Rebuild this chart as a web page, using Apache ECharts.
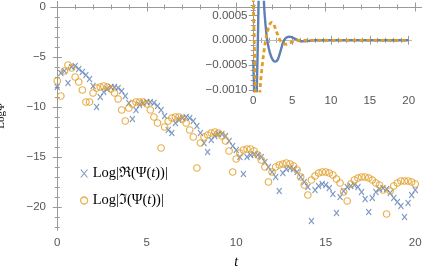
<!DOCTYPE html>
<html><head><meta charset="utf-8">
<script src="https://cdn.jsdelivr.net/npm/echarts@6/dist/echarts.min.js"></script>
<style>html,body{margin:0;padding:0;background:#fff}#c{width:425px;height:278px}</style>
</head><body><div id="c"></div>
<script>
// ---- data ----
const tValues = [0,0.2,0.4,0.6,0.8,1,1.2,1.4,1.6,1.8,2,2.2,2.4,2.6,2.8,3,3.2,3.4,3.6,3.8,4,4.2,4.4,4.6,4.8,5,5.2,5.4,5.6,5.8,6,6.2,6.4,6.6,6.8,7,7.2,7.4,7.6,7.8,8,8.2,8.4,8.6,8.8,9,9.2,9.4,9.6,9.8,10,10.2,10.4,10.6,10.8,11,11.2,11.4,11.6,11.8,12,12.2,12.4,12.6,12.8,13,13.2,13.4,13.6,13.8,14,14.2,14.4,14.6,14.8,15,15.2,15.4,15.6,15.8,16,16.2,16.4,16.6,16.8,17,17.2,17.4,17.6,17.8,18,18.2,18.4,18.6,18.8,19,19.2,19.4,19.6,19.8,20];
const reLog = [-8.0,-6.6,-6.4,-7.6,-6.0,-5.9,-6.2,-6.5,-6.8,-7.2,-7.9,-10.0,-9.0,-8.5,-8.2,-8.0,-8.0,-8.1,-8.4,-8.9,-9.6,-11.2,-10.3,-9.8,-9.6,-9.5,-9.5,-9.6,-9.9,-10.3,-10.9,-12.3,-12.6,-11.6,-11.3,-11.1,-11.0,-11.1,-11.4,-11.9,-12.6,-13.6,-14.5,-13.3,-12.9,-12.7,-12.7,-12.9,-13.4,-13.9,-14.3,-15.0,-16.7,-15.0,-14.8,-14.7,-14.8,-15.0,-15.5,-16.0,-16.5,-17.0,-18.4,-16.6,-16.2,-16.1,-16.2,-16.5,-17.0,-17.5,-18.0,-21.4,-18.3,-17.9,-17.7,-17.8,-18.1,-18.7,-20.6,-19.0,-18.4,-18.0,-17.9,-17.8,-18.0,-18.5,-19.2,-20.5,-19.1,-18.5,-18.2,-18.1,-18.2,-18.6,-19.1,-19.5,-19.9,-21.0,-19.6,-18.8,-18.3];
const imLog = [-7.4,-8.9,-6.4,-5.8,-6.1,-7.0,-7.5,-8.3,-9.5,-9.5,-8.6,-8.1,-8.0,-7.9,-8.0,-8.2,-8.6,-9.2,-10.3,-11.4,-10.1,-9.7,-9.5,-9.5,-9.5,-9.7,-10.3,-11.0,-11.6,-14.1,-12.0,-11.4,-11.1,-11.0,-11.0,-11.2,-11.6,-12.3,-13.0,-16.1,-13.6,-13.0,-12.8,-12.6,-12.5,-12.6,-12.9,-13.4,-14.4,-16.5,-15.2,-14.6,-14.3,-14.2,-14.2,-14.4,-14.8,-15.3,-16.0,-17.5,-16.5,-16.0,-15.8,-15.7,-15.6,-15.7,-15.9,-16.3,-17.0,-17.8,-18.8,-17.3,-16.9,-16.6,-16.5,-16.5,-16.6,-16.8,-17.2,-17.6,-18.5,-19.4,-17.7,-17.3,-17.1,-17.0,-17.0,-17.1,-17.3,-17.6,-17.8,-18.3,-20.7,-18.4,-17.9,-17.6,-17.4,-17.4,-17.4,-17.5,-17.7];
const xTickLabels = [0,5,10,15,20];
const yTickLabels = [-20,-15,-10,-5,0];
const insetT  = [0,0.1,0.2,0.3,0.4,0.5,0.6,0.7,0.8,0.9,1.0,1.2,1.4,1.6,1.8,2.0,2.2,2.4,2.6,2.8,3.0,3.2,3.4,3.6,3.8,4.0,4.2,4.4,4.6,4.8,5.0,5.4,5.8,6.2,6.6,7.0,7.5,8,9,10,12,14,16,18,20];
const insetRe = [-0.00040,-0.0009,-0.0015,-0.0018,-0.0014,-0.0007,0.0,0.0009,0.0017,0.0022,0.0024,0.0016,0.0007,0.00028,0.0,-0.00016,-0.00028,-0.00036,-0.00041,-0.00043,-0.00042,-0.00037,-0.00028,-0.00017,-0.00006,0.00001,0.000045,0.000063,0.00007,0.000068,0.000058,0.00003,0.0,-0.00002,-0.00002,-0.000012,-0.000004,0,0,0,0,0,0,0,0];
const insetIm = [0.00085,0.0002,-0.0005,-0.0013,-0.0020,-0.0025,-0.0025,-0.0020,-0.0013,-0.00095,-0.00075,-0.00045,-0.0002,0.0,0.00015,0.00027,0.00034,0.00036,0.00033,0.00026,0.00017,0.00009,0.00002,-0.00003,-0.00006,-0.000075,-0.00008,-0.000075,-0.000062,-0.000048,-0.000035,-0.000012,0.0,0,0,0,0,0,0,0,0,0,0,0,0];
const insetXTickLabels = [0,5,10,15,20];
const insetYTickLabels = [-0.001,-0.0005,0,0.0005];
const seriesNames = ['Log|\u211C(\u03A8(t))|','Log|\u2111(\u03A8(t))|'];

// ---- chart ----
const BLUE = '#5E81B5', ORANGE = '#E19C24', FRAME = '#9a9a9a', LAB = '#555';
const range = (a,b,s) => { const r=[]; for (let v=a; v<=b+1e-12; v+=s) r.push(+v.toFixed(6)); return r; };
const xMinor = range(0,20,1), yMinor = range(-22,0,1);
const ixMinor = range(0,20,1), iyMinor = range(-0.001,0.0007,0.0001);
const minus = s => String(s).replace('-', '\u2212');

function ax(grid, pos, min, max, major, minor, isMajor, labels, fmt, extra) {
  const o = {
    type:'value', gridIndex:grid, position:pos, min:min, max:max,
    axisLine:{show:isMajor, lineStyle:{color:FRAME, width:1}},
    axisTick:{show:true, inside:true, length:isMajor?4.5:2.5, customValues:isMajor?major:minor, lineStyle:{color:FRAME, width:1}},
    axisLabel:{show:!!labels, customValues:major, formatter:fmt, color:LAB, fontFamily:'Liberation Sans, Arial, sans-serif', fontSize:11.5, margin: 4},
    splitLine:{show:false}
  };
  return Object.assign(o, extra||{});
}
const mainXfmt = v => minus(v);
const mainYfmt = v => minus(v);
const insYfmt = v => minus(Number(v).toFixed(4));

const xAxes = [
  ax(0,'bottom',-0.35,20.35,xTickLabels,xMinor,true,true,mainXfmt,{name:'t',nameLocation:'middle',nameGap:25,nameTextStyle:{fontFamily:'Liberation Serif, serif',fontStyle:'italic',fontSize:14,color:'#000'}}),
  ax(0,'bottom',-0.35,20.35,xTickLabels,xMinor,false,false),
  ax(0,'top',-0.35,20.35,xTickLabels,xMinor,true,false),
  ax(0,'top',-0.35,20.35,xTickLabels,xMinor,false,false),
  ax(1,'bottom',-0.35,20.3,insetXTickLabels,ixMinor,true,true,mainXfmt),
  ax(1,'bottom',-0.35,20.3,insetXTickLabels,ixMinor,false,false),
  ax(1,'top',-0.35,20.3,insetXTickLabels,ixMinor,true,false),
  ax(1,'top',-0.35,20.3,insetXTickLabels,ixMinor,false,false)
];
xAxes[0].axisLabel.margin = 7;
xAxes[4].axisLabel.margin = 4;
const yAxes = [
  ax(0,'left',-22.3,0.55,yTickLabels,yMinor,true,true,mainYfmt,{name:'Log\u03A8',nameLocation:'middle',nameGap:44,nameTextStyle:{fontFamily:'Liberation Serif, serif',fontSize:11,color:'#000'}}),
  ax(0,'left',-22.3,0.55,yTickLabels,yMinor,false,false),
  ax(0,'right',-22.3,0.55,yTickLabels,yMinor,true,false),
  ax(0,'right',-22.3,0.55,yTickLabels,yMinor,false,false),
  ax(1,'left',-0.00102,0.00077,insetYTickLabels,iyMinor,true,true,insYfmt),
  ax(1,'left',-0.00102,0.00077,insetYTickLabels,iyMinor,false,false),
  ax(1,'right',-0.00102,0.00077,insetYTickLabels,iyMinor,true,false),
  ax(1,'right',-0.00102,0.00077,insetYTickLabels,iyMinor,false,false)
];
yAxes[0].axisLabel.margin = 5;
yAxes[4].axisLabel.margin = 3;

const X_PATH = 'path://M0,0L10,12M10,0L0,12';
const chart = echarts.init(document.getElementById('c'), null, {renderer:'canvas'});
chart.setOption({
  animation:false,
  backgroundColor:'#fff',
  grid:[
    {left:51, top:1.5, width:370.5, height:228.5, containLabel:false, outerBoundsMode:'none'},
    {left:250.5, top:2, width:160.5, height:89, containLabel:false, outerBoundsMode:'none', show:true, backgroundColor:'#fff', borderWidth:0}
  ],
  xAxis:xAxes,
  yAxis:yAxes,
  legend:{
    orient:'vertical', left:80, top:166, padding:0, itemWidth:7, itemHeight:8, itemGap:12,
    textStyle:{fontFamily:'Liberation Serif, DejaVu Serif, serif', fontSize:14.5, color:'#000',
      rich:{n:{fontFamily:'Liberation Serif, DejaVu Serif, serif', fontSize:14.5, color:'#000'},
            i:{fontFamily:'Liberation Serif, DejaVu Serif, serif', fontSize:14.5, fontStyle:'italic', color:'#000'}}},
    formatter: n => { const k = n.indexOf('(t)'); return '{n|'+n.slice(0,k+1)+'}{i|t}{n|'+n.slice(k+2)+'}'; },
    data:[
      {name:seriesNames[0], icon:X_PATH, itemStyle:{color:'rgba(0,0,0,0)', borderColor:BLUE, borderWidth:1.1}},
      {name:seriesNames[1], icon:'circle', itemStyle:{color:'rgba(0,0,0,0)', borderColor:ORANGE, borderWidth:1.3}}
    ]
  },
  series:[
    {name:seriesNames[0], type:'scatter', xAxisIndex:0, yAxisIndex:0,
     data:tValues.map((t,i)=>[t,reLog[i]]), symbol:X_PATH, symbolSize:[5,6],
     itemStyle:{color:'rgba(0,0,0,0)', borderColor:BLUE, borderWidth:1.1}},
    {name:seriesNames[1], type:'scatter', xAxisIndex:0, yAxisIndex:0,
     data:tValues.map((t,i)=>[t,imLog[i]]), symbol:'circle', symbolSize:6.5,
     itemStyle:{color:'rgba(0,0,0,0)', borderColor:ORANGE, borderWidth:1.2}},
    {name:'inset Re', type:'line', xAxisIndex:4, yAxisIndex:4, z:3,
     data:insetT.map((t,i)=>[t,insetRe[i]]), showSymbol:false, smooth:0.35, clip:true,
     lineStyle:{color:BLUE, width:2.4},
     markLine:{silent:true, symbol:'none', z:1, label:{show:false}, lineStyle:{color:'#bbb', width:1, type:'solid'}, data:[{yAxis:0}]}},
    {name:'inset Im', type:'line', xAxisIndex:4, yAxisIndex:4, z:4,
     data:insetT.map((t,i)=>[t,insetIm[i]]), showSymbol:false, smooth:0.35, clip:true,
     lineStyle:{color:ORANGE, width:2.8, type:[4,3]}}
  ]
});
</script></body></html>
